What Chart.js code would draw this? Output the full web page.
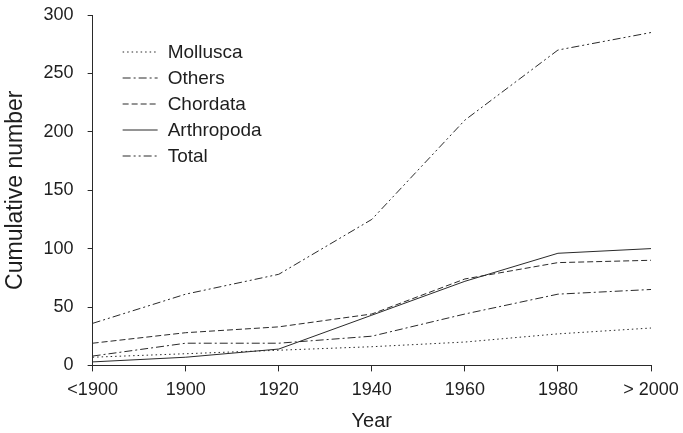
<!DOCTYPE html>
<html>
<head>
<meta charset="utf-8">
<script src="https://cdn.jsdelivr.net/npm/chart.js@4.4.0/dist/chart.umd.min.js"></script>
<style>
  body { margin: 0; background: #fff; }
</style>
</head>
<body>
<canvas id="cumChart" width="683" height="433"></canvas>
<script>
// values
const years = ['<1900', '1900', '1920', '1940', '1960', '1980', '> 2000'];
const mollusca = [7, 10, 13, 16, 20, 27, 32];
const others = [8, 19, 19, 25, 44, 61, 65];
const chordata = [19, 28, 33, 44, 74, 88, 90];
const arthropoda = [3, 7, 14, 43, 72, 96, 100];
const total = [36, 61, 78, 125, 210, 270, 285];
const yTicks = [0, 50, 100, 150, 200, 250, 300];

const lineColor = '#2a2a2a';
const textColor = '#1e1e1e';
const fontFamily = '"Liberation Sans", Arial, sans-serif';

function series(label, data, dash) {
    return {
        label: label,
        data: data,
        borderColor: lineColor,
        borderWidth: 1,
        borderDash: dash,
        pointRadius: 0,
        fill: false,
        tension: 0
    };
}

// legend drawn inside the plot, top-left
const innerLegend = {
    id: 'innerLegend',
    afterDatasetsDraw(chart) {
        const ctx = chart.ctx;
        const area = chart.chartArea;
        const x0 = area.left + 30;
        let y = area.top + 37;
        ctx.save();
        ctx.font = '19px ' + fontFamily;
        ctx.textBaseline = 'middle';
        ctx.fillStyle = textColor;
        chart.data.datasets.forEach(ds => {
            ctx.beginPath();
            ctx.strokeStyle = ds.borderColor;
            ctx.lineWidth = ds.borderWidth;
            ctx.setLineDash(ds.borderDash || []);
            ctx.moveTo(x0, y);
            ctx.lineTo(x0 + 35, y);
            ctx.stroke();
            ctx.setLineDash([]);
            ctx.fillText(ds.label, x0 + 45, y + 1);
            y += 26;
        });
        ctx.restore();
    }
};

const ctx = document.getElementById('cumChart').getContext('2d');
new Chart(ctx, {
    type: 'line',
    data: {
        labels: years,
        datasets: [
            series('Mollusca', mollusca, [1.5, 3]),
            series('Others', others, [8, 3, 2, 3]),
            series('Chordata', chordata, [6, 3]),
            series('Arthropoda', arthropoda, []),
            series('Total', total, [8, 3, 2, 3, 2, 3])
        ]
    },
    options: {
        responsive: false,
        animation: false,
        layout: { padding: 0 },
        plugins: {
            legend: { display: false },
            tooltip: { enabled: false }
        },
        scales: {
            x: {
                type: 'category',
                offset: false,
                afterFit: scale => { scale.paddingRight = 32; },
                grid: { display: true, drawOnChartArea: false, drawTicks: true, tickLength: 6, color: lineColor },
                border: { display: true, color: lineColor, width: 1 },
                ticks: { color: textColor, font: { size: 18, family: fontFamily }, padding: 8, maxRotation: 0, autoSkip: false },
                title: { display: true, text: 'Year', color: textColor, font: { size: 20, family: fontFamily }, padding: { top: 0, bottom: 0 } }
            },
            y: {
                min: 0,
                max: 300,
                afterBuildTicks: axis => { axis.ticks = yTicks.map(v => ({ value: v })); },
                afterFit: scale => { scale.paddingTop = 15; scale.paddingBottom = 0; },
                grid: { display: true, drawOnChartArea: false, drawTicks: true, tickLength: 5, color: lineColor },
                border: { display: true, color: lineColor, width: 1 },
                ticks: { color: textColor, font: { size: 18, family: fontFamily }, padding: 14 },
                title: { display: true, text: 'Cumulative number', color: textColor, font: { size: 23, family: fontFamily }, padding: { top: 2, bottom: 0 } }
            }
        }
    },
    plugins: [innerLegend]
});
</script>
</body>
</html>
